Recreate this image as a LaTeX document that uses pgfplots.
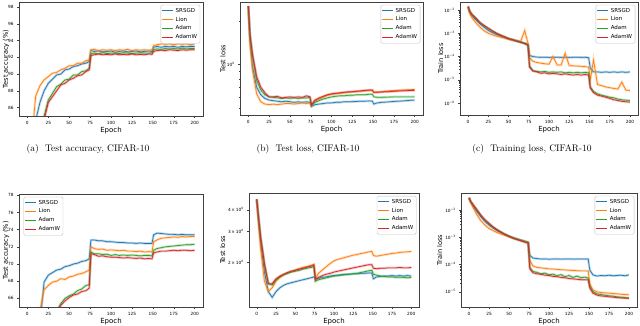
\documentclass[border=0pt]{standalone}
\usepackage{fontspec}
\setsansfont{DejaVu Sans}
\usepackage{pgfplots}
\usepackage{pgfplotstable}
\pgfplotsset{compat=1.18}
\definecolor{c1}{RGB}{31,119,180}
\definecolor{c2}{RGB}{255,127,14}
\definecolor{c3}{RGB}{44,160,44}
\definecolor{c4}{RGB}{214,39,40}

% columns: epoch, SRSGD, Lion, Adam, AdamW
\pgfplotstableread{
ep s l a w
0 40 45 35 35
2 55 62 45 44
5 75 82 65 62
10 84.5 87.4 78 76
15 86.6 88.6 82.5 81.5
20 88.0 89.3 85.0 84.5
25 88.9 89.7 86.9 86.6
30 89.4 90.1 87.7 87.3
35 89.9 90.2 88.5 88.0
40 90.0 90.5 88.8 88.7
45 90.5 90.7 89.3 88.9
50 90.6 91.0 89.4 89.3
55 90.9 91.0 89.9 89.5
60 91.0 91.3 89.9 89.8
65 91.2 91.3 90.3 89.9
70 91.3 91.6 90.4 90.3
74 91.5 91.7 90.7 90.5
76 92.8 92.9 92.4 92.2
80 92.7 92.95 92.5 92.3
85 92.75 92.8 92.4 92.4
90 92.65 92.9 92.55 92.3
95 92.7 92.85 92.45 92.35
100 92.75 92.9 92.5 92.3
105 92.6 92.8 92.5 92.4
110 92.7 92.9 92.45 92.3
115 92.75 92.85 92.55 92.35
120 92.65 92.95 92.5 92.3
125 92.7 92.8 92.45 92.4
130 92.75 92.9 92.5 92.3
135 92.65 92.85 92.55 92.35
140 92.7 92.9 92.5 92.3
145 92.75 92.85 92.5 92.4
149 92.7 92.9 92.55 92.35
151 93.2 93.4 92.9 92.7
155 93.3 93.5 93.0 92.8
160 93.2 93.6 92.95 92.85
165 93.3 93.55 93.05 92.8
170 93.25 93.6 93.0 92.9
175 93.3 93.5 93.05 92.85
180 93.2 93.6 93.0 92.8
185 93.3 93.55 93.1 92.9
190 93.25 93.6 93.0 92.85
195 93.3 93.5 93.05 92.9
200 93.3 93.6 93.05 92.9
}\tabA

\pgfplotstableread{
ep s l a w
0 2.53 2.53 2.53 2.53
2 1.45 1.40 1.60 1.62
5 0.97 0.92 1.16 1.18
10 0.70 0.63 0.78 0.83
15 0.62 0.555 0.67 0.70
20 0.585 0.535 0.62 0.64
25 0.57 0.53 0.60 0.60
30 0.565 0.535 0.595 0.60
35 0.56 0.53 0.59 0.605
40 0.555 0.535 0.585 0.59
45 0.56 0.54 0.59 0.595
50 0.556 0.54 0.586 0.60
55 0.55 0.535 0.59 0.595
60 0.555 0.54 0.585 0.60
65 0.55 0.545 0.59 0.595
70 0.555 0.54 0.59 0.61
74 0.55 0.545 0.595 0.60
76 0.515 0.52 0.525 0.53
80 0.53 0.56 0.55 0.57
85 0.535 0.58 0.565 0.59
90 0.54 0.60 0.58 0.605
95 0.545 0.615 0.59 0.62
100 0.545 0.625 0.60 0.63
105 0.55 0.63 0.605 0.635
110 0.55 0.635 0.61 0.64
115 0.555 0.64 0.61 0.645
120 0.555 0.645 0.615 0.65
125 0.556 0.65 0.615 0.65
130 0.558 0.655 0.62 0.655
135 0.56 0.655 0.62 0.66
140 0.56 0.66 0.62 0.665
145 0.562 0.665 0.625 0.668
149 0.562 0.665 0.625 0.668
151 0.535 0.645 0.60 0.645
155 0.545 0.648 0.595 0.645
160 0.55 0.65 0.595 0.648
165 0.552 0.655 0.597 0.65
170 0.555 0.66 0.598 0.652
175 0.558 0.662 0.60 0.655
180 0.56 0.665 0.60 0.658
185 0.562 0.668 0.60 0.66
190 0.565 0.67 0.60 0.662
195 0.568 0.672 0.60 0.664
200 0.57 0.675 0.60 0.665
}\tabB

\pgfplotstableread{
ep s l a w
0 1.4e-2 1.4e-2 1.4e-2 1.4e-2
2 7.9e-3 7.0e-3 8.9e-3 8.9e-3
5 5.6e-3 4.5e-3 6.3e-3 6.3e-3
10 3.7e-3 2.7e-3 4.3e-3 4.3e-3
15 2.5e-3 1.8e-3 2.8e-3 2.8e-3
20 1.8e-3 1.26e-3 2.1e-3 2.1e-3
25 1.32e-3 1.0e-3 1.62e-3 1.62e-3
30 1.07e-3 8.5e-4 1.26e-3 1.26e-3
35 8.9e-4 7.6e-4 1.0e-3 1.0e-3
40 7.6e-4 6.8e-4 8.3e-4 8.3e-4
45 6.6e-4 6.2e-4 7.1e-4 7.0e-4
50 5.8e-4 5.5e-4 6.0e-4 5.9e-4
55 5.1e-4 5.0e-4 5.4e-4 5.3e-4
60 4.6e-4 4.9e-4 4.7e-4 4.6e-4
65 4.1e-4 4.5e-4 4.2e-4 4.1e-4
70 3.7e-4 1.3e-3 3.7e-4 3.6e-4
74 3.4e-4 3.8e-4 3.2e-4 3.0e-4
76 1.12e-4 9.0e-5 4.0e-5 3.5e-5
80 1.0e-4 6.3e-5 2.5e-5 2.4e-5
85 9.5e-5 5.6e-5 2.3e-5 2.2e-5
90 9.3e-5 5.2e-5 2.2e-5 1.9e-5
95 9.4e-5 4.9e-5 2.3e-5 2.0e-5
100 9.2e-5 4.7e-5 2.1e-5 1.8e-5
105 9.3e-5 1.0e-4 2.2e-5 1.9e-5
110 9.4e-5 4.4e-5 2.1e-5 1.8e-5
115 9.2e-5 4.3e-5 2.2e-5 1.7e-5
120 9.3e-5 1.4e-4 2.0e-5 1.8e-5
125 9.2e-5 4.1e-5 2.1e-5 1.7e-5
130 9.3e-5 4.0e-5 2.0e-5 1.6e-5
135 9.4e-5 3.9e-5 2.1e-5 1.7e-5
140 9.2e-5 3.8e-5 2.0e-5 1.6e-5
145 9.3e-5 3.7e-5 2.1e-5 1.7e-5
149 8.9e-5 3.5e-5 2.0e-5 1.6e-5
151 3.2e-5 1.0e-5 5.0e-6 4.5e-6
155 2.2e-5 7.0e-5 3.2e-6 2.8e-6
160 2.2e-5 6.3e-6 2.5e-6 2.2e-6
165 2.1e-5 5.6e-6 2.2e-6 2.0e-6
170 2.2e-5 5.0e-6 2.0e-6 1.8e-6
175 2.1e-5 4.6e-6 1.8e-6 1.6e-6
180 2.2e-5 4.3e-6 1.7e-6 1.4e-6
185 2.1e-5 4.0e-6 1.5e-6 1.3e-6
190 2.2e-5 8.0e-6 1.4e-6 1.2e-6
195 2.1e-5 3.6e-6 1.35e-6 1.15e-6
200 2.2e-5 3.5e-6 1.3e-6 1.1e-6
}\tabC

\pgfplotstableread{
ep s l a w
0 20 20 10 10
2 25 25 12 12
5 40 38 20 20
10 55 52 35 33
15 63 64.5 48 46
20 67.9 67.0 55 54
25 68.7 67.5 59 58
30 69.0 67.9 62 61.5
35 69.3 68.0 64.5 64.3
40 69.4 68.3 65.4 65.2
45 69.7 68.2 66.0 65.7
50 69.8 68.5 66.3 66.1
55 70.0 68.6 66.5 66.4
60 70.1 68.8 66.9 66.5
65 70.3 68.9 67.1 66.8
70 70.4 69.1 67.5 66.9
74 70.6 69.3 67.6 67.2
76 72.8 72.0 71.4 71.2
80 72.8 71.8 71.2 71.1
85 72.7 71.7 71.2 70.9
90 72.7 71.75 71.1 70.95
95 72.6 71.6 71.15 70.85
100 72.6 71.65 71.0 70.8
105 72.55 71.6 71.1 70.8
110 72.5 71.55 71.0 70.75
115 72.5 71.6 71.05 70.7
120 72.45 71.5 71.0 70.75
125 72.45 71.5 71.05 70.7
130 72.4 71.45 71.0 70.65
135 72.45 71.5 70.95 70.7
140 72.4 71.4 71.0 70.6
145 72.4 71.45 71.0 70.65
149 72.4 71.4 70.95 70.6
151 73.4 72.6 71.6 71.3
155 73.6 72.8 71.8 71.4
160 73.55 73.0 71.9 71.5
165 73.5 73.05 72.0 71.5
170 73.45 73.1 72.05 71.55
175 73.45 73.15 72.1 71.6
180 73.4 73.1 72.15 71.55
185 73.45 73.2 72.2 71.6
190 73.4 73.15 72.25 71.6
195 73.4 73.2 72.25 71.55
200 73.4 73.2 72.3 71.6
}\tabD

\pgfplotstableread{
ep s l a w
0 4.6 4.6 4.6 4.6
2 3.6 3.5 3.75 3.75
5 2.6 2.4 2.8 2.8
10 1.75 1.55 1.95 1.95
15 1.35 1.35 1.5 1.5
20 1.25 1.42 1.47 1.5
25 1.35 1.55 1.58 1.6
30 1.42 1.63 1.64 1.66
35 1.47 1.69 1.69 1.7
40 1.5 1.73 1.72 1.74
45 1.52 1.77 1.75 1.77
50 1.54 1.8 1.77 1.79
55 1.56 1.83 1.79 1.82
60 1.58 1.86 1.82 1.84
65 1.6 1.88 1.84 1.87
70 1.62 1.91 1.86 1.89
74 1.64 1.94 1.88 1.92
76 1.6 1.6 1.55 1.58
80 1.61 1.72 1.58 1.63
85 1.63 1.8 1.6 1.67
90 1.64 1.88 1.62 1.7
95 1.66 1.96 1.64 1.72
100 1.67 2.03 1.66 1.75
105 1.68 2.07 1.67 1.77
110 1.69 2.1 1.68 1.79
115 1.7 2.13 1.69 1.81
120 1.7 2.16 1.7 1.83
125 1.71 2.19 1.71 1.85
130 1.71 2.21 1.72 1.87
135 1.72 2.24 1.74 1.89
140 1.72 2.26 1.76 1.91
145 1.73 2.29 1.78 1.93
149 1.73 2.3 1.79 1.93
151 1.6 2.18 1.7 1.84
155 1.64 2.16 1.68 1.83
160 1.65 2.18 1.66 1.84
165 1.66 2.2 1.65 1.84
170 1.66 2.22 1.64 1.85
175 1.67 2.24 1.64 1.85
180 1.66 2.25 1.63 1.85
185 1.67 2.27 1.63 1.86
190 1.66 2.28 1.63 1.85
195 1.67 2.29 1.62 1.85
200 1.66 2.3 1.63 1.86
}\tabE

\pgfplotstableread{
ep s l a w
0 2.8e-2 2.8e-2 2.8e-2 2.8e-2
2 2.0e-2 1.9e-2 2.1e-2 2.1e-2
5 1.4e-2 1.26e-2 1.58e-2 1.58e-2
10 8.7e-3 6.6e-3 1.0e-2 1.0e-2
15 5.6e-3 4.0e-3 6.3e-3 6.3e-3
20 3.8e-3 2.8e-3 4.3e-3 4.3e-3
25 2.8e-3 2.1e-3 3.2e-3 3.2e-3
30 2.2e-3 1.78e-3 2.4e-3 2.4e-3
35 1.78e-3 1.5e-3 1.9e-3 1.9e-3
40 1.48e-3 1.32e-3 1.55e-3 1.55e-3
45 1.26e-3 1.17e-3 1.29e-3 1.28e-3
50 1.1e-3 1.05e-3 1.1e-3 1.08e-3
55 9.8e-4 9.3e-4 9.5e-4 9.3e-4
60 8.7e-4 8.5e-4 8.5e-4 8.3e-4
65 7.9e-4 7.8e-4 7.6e-4 7.4e-4
70 7.2e-4 7.1e-4 6.9e-4 6.6e-4
74 6.6e-4 6.5e-4 6.3e-4 6.1e-4
76 2.2e-4 1.4e-4 7.9e-5 7.0e-5
80 1.74e-4 8.9e-5 5.6e-5 5.0e-5
85 1.66e-4 7.9e-5 5.2e-5 4.6e-5
90 1.6e-4 7.6e-5 4.6e-5 4.4e-5
95 1.62e-4 7.3e-5 4.9e-5 4.1e-5
100 1.58e-4 7.0e-5 4.2e-5 4.0e-5
105 1.6e-4 6.9e-5 4.5e-5 3.7e-5
110 1.62e-4 6.7e-5 3.9e-5 3.6e-5
115 1.59e-4 6.5e-5 4.3e-5 3.4e-5
120 1.6e-4 6.4e-5 3.6e-5 3.3e-5
125 1.61e-4 6.2e-5 4.0e-5 3.1e-5
130 1.59e-4 6.1e-5 3.4e-5 3.0e-5
135 1.6e-4 6.0e-5 3.8e-5 2.9e-5
140 1.61e-4 5.9e-5 3.3e-5 2.8e-5
145 1.6e-4 5.9e-5 3.5e-5 2.8e-5
149 1.6e-4 5.8e-5 3.2e-5 2.75e-5
151 6.3e-5 2.0e-5 1.6e-5 1.4e-5
155 4.2e-5 1.17e-5 1.0e-5 8.9e-6
160 3.8e-5 1.0e-5 8.5e-6 7.6e-6
165 4.0e-5 9.5e-6 8.0e-6 7.1e-6
170 3.9e-5 9.2e-6 7.6e-6 6.9e-6
175 4.1e-5 9.0e-6 7.2e-6 6.6e-6
180 3.9e-5 8.7e-6 7.0e-6 6.4e-6
185 4.0e-5 8.5e-6 6.6e-6 6.2e-6
190 4.1e-5 8.2e-6 6.4e-6 6.0e-6
195 3.9e-5 8.0e-6 6.2e-6 5.9e-6
200 4.2e-5 7.9e-6 6.0e-6 5.8e-6
}\tabF

\pgfplotsset{
  chart/.style={scale only axis, anchor=south west,
    xmin=-10, xmax=210, xtick={0,25,...,200},
    tick align=outside, xtick pos=bottom, ytick pos=left,
    major tick length=1.8pt, minor tick length=1pt,
    axis line style={black!75, line width=0.5pt},
    tick style={black!75, line width=0.4pt},
    tick label style={font=\sffamily\fontsize{4.3}{5}\selectfont},
    /pgf/number format/assume math mode=true,
    label style={font=\sffamily\fontsize{7}{8}\selectfont},
    xlabel={Epoch}, xlabel style={yshift=4pt},
    legend cell align=left,
    legend style={at={(0.985,0.975)}, anchor=north east, draw=black!25,
      rounded corners=1.5pt, font=\sffamily\fontsize{5.5}{6}\selectfont,
      inner sep=1pt, row sep=-0.8pt,
      /tikz/every even column/.append style={column sep=1pt}},
    legend image code/.code={\draw[##1, line width=0.9pt] (0pt,0pt) -- (11pt,0pt);},
  },
  ylab/.style={every axis y label/.style={at={(axis description cs:#1,0.5)},
    rotate=90, anchor=south, inner sep=0pt,
    font=\sffamily\fontsize{6.6}{8}\selectfont}},
  band/.style={line width=2.4pt, opacity=0.3, forget plot},
  ln/.style={line width=0.7pt},
}

\newcommand{\fourseries}[1]{%
  \addplot[band, c1] table[x=ep, y=s] {#1};
  \addplot[ln, c1] table[x=ep, y=s] {#1};
  \addplot[band, c2] table[x=ep, y=l] {#1};
  \addplot[ln, c2] table[x=ep, y=l] {#1};
  \addplot[band, c3] table[x=ep, y=a] {#1};
  \addplot[ln, c3] table[x=ep, y=a] {#1};
  \addplot[band, c4] table[x=ep, y=w] {#1};
  \addplot[ln, c4] table[x=ep, y=w] {#1};
  \legend{SRSGD, Lion, Adam, AdamW}
}

\begin{document}
\begin{tikzpicture}
\path[use as bounding box] (0pt,0pt) rectangle (640pt,325pt);

% (a) test accuracy, CIFAR-10
\begin{axis}[chart, ylab=-0.052, at={(19pt,209pt)}, width=184pt, height=114pt,
  ymin=85, ymax=98.6, ytick={86,88,...,98}, ylabel={Test accuracy (\%)}]
\fourseries{\tabA}
\end{axis}

% (b) test loss, CIFAR-10
\begin{axis}[chart, ylab=-0.079, at={(240pt,210pt)}, width=183pt, height=113pt,
  ymode=log, ymin=0.45, ymax=2.7, ytick={1}, yticklabels={10\textsuperscript{0}},
  minor ytick={0.5,0.6,0.7,0.8,0.9,2}, ylabel={Test loss}]
\fourseries{\tabB}
\end{axis}

% (c) training loss, CIFAR-10
\begin{axis}[chart, ylab=-0.093, at={(460pt,210pt)}, width=178pt, height=113pt,
  ymode=log, ymin=3.1e-7, ymax=2.2e-2,
  ytick={1e-6,1e-5,1e-4,1e-3,1e-2},
  yticklabels={10\textsuperscript{−6},10\textsuperscript{−5},10\textsuperscript{−4},10\textsuperscript{−3},10\textsuperscript{−2}},
  ylabel={Train loss}]
\fourseries{\tabC}
\end{axis}

\node[font=\fontsize{9.5}{11}\selectfont] at (88pt,176pt) {(a)\ \ Test accuracy, CIFAR-10};
\node[font=\fontsize{9.5}{11}\selectfont] at (308pt,176pt) {(b)\ \ Test loss, CIFAR-10};
\node[font=\fontsize{9.5}{11}\selectfont] at (532pt,176pt) {(c)\ \ Training loss, CIFAR-10};

% (d) test accuracy, CIFAR-100
\begin{axis}[chart, ylab=-0.052, at={(19pt,18pt)}, width=184pt, height=113pt,
  ymin=65, ymax=78.15, ytick={66,68,...,78}, ylabel={Test accuracy (\%)},
  legend style={at={(0.025,0.975)}, anchor=north west}]
\fourseries{\tabD}
\end{axis}

% (e) test loss, CIFAR-100
\begin{axis}[chart, ylab=-0.138, at={(249pt,18pt)}, width=170pt, height=114pt,
  ymode=log, ymin=1.1, ymax=5.0, ytick={2,3,4},
  yticklabels={2\,×\,10\textsuperscript{0},3\,×\,10\textsuperscript{0},4\,×\,10\textsuperscript{0}},
  minor ytick={}, ylabel={Test loss}]
\fourseries{\tabE}
\end{axis}

% (f) training loss, CIFAR-100
\begin{axis}[chart, ylab=-0.105, at={(461pt,18pt)}, width=176pt, height=114pt,
  ymode=log, ymin=2.8e-6, ymax=4.2e-2,
  ytick={1e-5,1e-4,1e-3,1e-2},
  yticklabels={10\textsuperscript{−5},10\textsuperscript{−4},10\textsuperscript{−3},10\textsuperscript{−2}},
  ylabel={Train loss}]
\fourseries{\tabF}
\end{axis}
\end{tikzpicture}
\end{document}
